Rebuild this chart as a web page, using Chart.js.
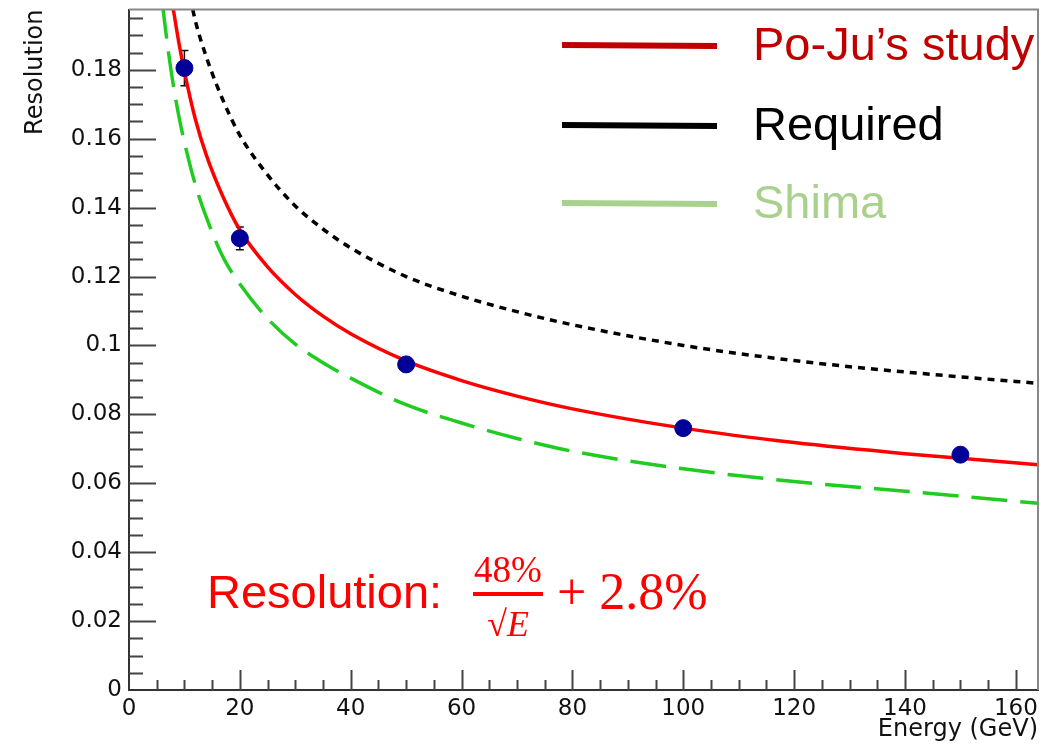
<!DOCTYPE html>
<html>
<head>
<meta charset="utf-8">
<script src="https://cdn.jsdelivr.net/npm/chart.js@4.4.1/dist/chart.umd.min.js"></script>
<style>
  html, body { margin: 0; padding: 0; background: #fff; }
</style>
</head>
<body>
<canvas id="myChart" width="1056" height="753"></canvas>
<script>
// measured points
const energies = [10, 20, 50, 100, 150];
const resolution = [0.1805, 0.1311, 0.0945, 0.0760, 0.0683];
const resolutionErr = [0.0051, 0.0033, 0.0012, 0.0008, 0.0007];

// Po-Ju's study fit (red)
const fitE = [8, 9, 10, 12, 14, 17, 20, 25, 30, 35, 40, 50, 60, 70, 80, 100, 120, 140, 164];
const fitValues = [0.1975, 0.1878, 0.1795, 0.1655, 0.155, 0.143, 0.1335, 0.1228, 0.1148, 0.1085, 0.1034, 0.0955, 0.0898, 0.0853, 0.0816, 0.0760, 0.0718, 0.0686, 0.0654];

// Required (black dotted)
const reqE = [11.5, 12, 14, 17, 20, 25, 30, 35, 40, 50, 60, 70, 80, 100, 120, 140, 164];
const reqValues = [0.1975, 0.194, 0.1835, 0.171, 0.161, 0.1495, 0.1405, 0.1338, 0.1283, 0.120, 0.1143, 0.1098, 0.106, 0.100, 0.0956, 0.0923, 0.089];

// Shima (green dashed)
const shimaE = [6, 7, 8, 9, 10, 12, 14, 17, 20, 25, 30, 35, 40, 50, 60, 70, 80, 100, 120, 140, 164];
const shimaValues = [0.1995, 0.1865, 0.1755, 0.1665, 0.159, 0.1465, 0.137, 0.1255, 0.1178, 0.1078, 0.1004, 0.095, 0.0905, 0.0828, 0.0775, 0.073, 0.0693, 0.0642, 0.0605, 0.0577, 0.0542];

const xTicks = [0, 20, 40, 60, 80, 100, 120, 140, 160];
const yTicks = [0, 0.02, 0.04, 0.06, 0.08, 0.1, 0.12, 0.14, 0.16, 0.18];

const legendLabels = ["Po-Ju\u2019s study", "Required", "Shima"];
const legendColors = ["#c00000", "#000000", "#a9d18e"];

const X_MAX = 164;
const Y_MAX = 0.1975;

function toXY(xs, ys) {
  return xs.map((x, i) => ({ x: x, y: ys[i] }));
}

// error bars under the markers
const errorBars = {
  id: "errorBars",
  beforeDatasetsDraw(chart) {
    const { ctx, scales: { x, y } } = chart;
    ctx.save();
    ctx.strokeStyle = "#111";
    ctx.lineWidth = 1.5;
    energies.forEach((e, i) => {
      const px = x.getPixelForValue(e);
      const top = y.getPixelForValue(resolution[i] + resolutionErr[i]);
      const bot = y.getPixelForValue(resolution[i] - resolutionErr[i]);
      ctx.beginPath();
      ctx.moveTo(px, top); ctx.lineTo(px, bot);
      ctx.moveTo(px - 4, top); ctx.lineTo(px + 4, top);
      ctx.moveTo(px - 4, bot); ctx.lineTo(px + 4, bot);
      ctx.stroke();
    });
    ctx.restore();
  }
};

// ROOT style: ticks inside the frame, grey top/right frame
const frameTicks = {
  id: "frameTicks",
  afterDatasetsDraw(chart) {
    const { ctx, chartArea: a, scales: { x, y } } = chart;
    ctx.save();
    ctx.strokeStyle = "#444";
    ctx.lineWidth = 2;
    ctx.beginPath();
    for (let v = 5; v <= X_MAX; v += 5) {
      const px = Math.round(x.getPixelForValue(v)) + 0.5;
      const len = v % 20 === 0 ? 20 : 10;
      ctx.moveTo(px, a.bottom); ctx.lineTo(px, a.bottom - len);
    }
    for (let k = 1; k * 0.005 <= Y_MAX; k++) {
      const py = Math.round(y.getPixelForValue(k * 0.005)) + 0.5;
      const len = k % 4 === 0 ? 27 : 14;
      ctx.moveTo(a.left, py); ctx.lineTo(a.left + len, py);
    }
    ctx.stroke();
    ctx.strokeStyle = "#888";
    ctx.beginPath();
    ctx.moveTo(a.left, a.top); ctx.lineTo(a.right, a.top); ctx.lineTo(a.right, a.bottom);
    ctx.stroke();
    ctx.restore();
  }
};

// pasted-on legend and formula text
const overlay = {
  id: "overlay",
  afterDraw(chart) {
    const ctx = chart.ctx;
    ctx.save();
    const rows = [45, 125, 203];
    const base = [60, 140, 218];
    legendLabels.forEach((lab, i) => {
      ctx.strokeStyle = legendColors[i];
      ctx.lineWidth = 6;
      ctx.beginPath();
      ctx.moveTo(562, rows[i]); ctx.lineTo(717, rows[i] + 1);
      ctx.stroke();
      ctx.fillStyle = legendColors[i];
      ctx.font = "47px 'Liberation Sans', Arial, sans-serif";
      ctx.textBaseline = "alphabetic";
      ctx.fillText(lab, 753, base[i]);
    });

    ctx.fillStyle = "#ff0000";
    ctx.font = "47px 'Liberation Sans', Arial, sans-serif";
    ctx.fillText("Resolution:", 207, 608);
    ctx.textAlign = "center";
    ctx.font = "37px 'Liberation Serif', serif";
    ctx.fillText("48%", 508, 582);
    ctx.fillRect(473, 592, 70, 4);
    ctx.font = "36px 'Liberation Serif', serif";
    const rw = ctx.measureText("\u221A").width;
    ctx.font = "italic 36px 'Liberation Serif', serif";
    const ew = ctx.measureText("E").width;
    const sx = 508 - (rw + ew) / 2;
    ctx.textAlign = "left";
    ctx.font = "36px 'Liberation Serif', serif";
    ctx.fillText("\u221A", sx, 636);
    ctx.font = "italic 36px 'Liberation Serif', serif";
    ctx.fillText("E", sx + rw, 636);
    ctx.font = "52px 'Liberation Serif', serif";
    ctx.fillText("+ 2.8%", 557, 609);
    ctx.restore();
  }
};

const tickFont = { family: "'DejaVu Sans', sans-serif", size: 23 };
const titleFont = { family: "'DejaVu Sans', sans-serif", size: 24 };

new Chart(document.getElementById("myChart"), {
  type: "scatter",
  data: {
    datasets: [
      {
        label: "Data",
        data: toXY(energies, resolution),
        backgroundColor: "#000099",
        borderColor: "#000099",
        pointRadius: 8.5,
        showLine: false
      },
      {
        label: legendLabels[0],
        data: toXY(fitE, fitValues),
        showLine: true,
        borderColor: "#ff0000",
        borderWidth: 3.5,
        pointRadius: 0,
        cubicInterpolationMode: "monotone",
        clip: 0
      },
      {
        label: legendLabels[1],
        data: toXY(reqE, reqValues),
        showLine: true,
        borderColor: "#000000",
        borderWidth: 3.5,
        borderDash: [7, 6],
        pointRadius: 0,
        cubicInterpolationMode: "monotone",
        clip: 0
      },
      {
        label: legendLabels[2],
        data: toXY(shimaE, shimaValues),
        showLine: true,
        borderColor: "#1fcc1f",
        borderWidth: 3.5,
        borderDash: [36, 13],
        pointRadius: 0,
        cubicInterpolationMode: "monotone",
        clip: 0
      }
    ]
  },
  options: {
    responsive: false,
    animation: false,
    layout: { padding: { left: 0, top: 7, right: 18, bottom: 0 } },
    plugins: { legend: { display: false }, tooltip: { enabled: false } },
    scales: {
      x: {
        type: "linear",
        min: 0,
        max: X_MAX,
        afterBuildTicks: (s) => { s.ticks = xTicks.map((v) => ({ value: v })); },
        afterFit: (s) => { s.height = 63; s.paddingLeft = 0; s.paddingRight = 0; },
        grid: { drawOnChartArea: false, drawTicks: false },
        border: { display: true, color: "#333", width: 2 },
        ticks: { font: tickFont, color: "#111", padding: 5, maxRotation: 0, callback: (v) => String(v) },
        title: {
          display: true, text: "Energy (GeV)", align: "end", color: "#111",
          font: titleFont, padding: { top: 0, bottom: 9 }
        }
      },
      y: {
        type: "linear",
        min: 0,
        max: Y_MAX,
        afterBuildTicks: (s) => { s.ticks = yTicks.map((v) => ({ value: v })); },
        afterFit: (s) => { s.width = 129; s.paddingTop = 0; s.paddingBottom = 0; },
        grid: { drawOnChartArea: false, drawTicks: false },
        border: { display: true, color: "#333", width: 2 },
        ticks: { font: tickFont, color: "#111", padding: 7, callback: (v) => String(v) },
        title: {
          display: true, text: "Resolution", align: "end", color: "#111",
          font: titleFont, padding: { top: 21, bottom: 0 }
        }
      }
    }
  },
  plugins: [errorBars, frameTicks, overlay]
});
</script>
</body>
</html>
